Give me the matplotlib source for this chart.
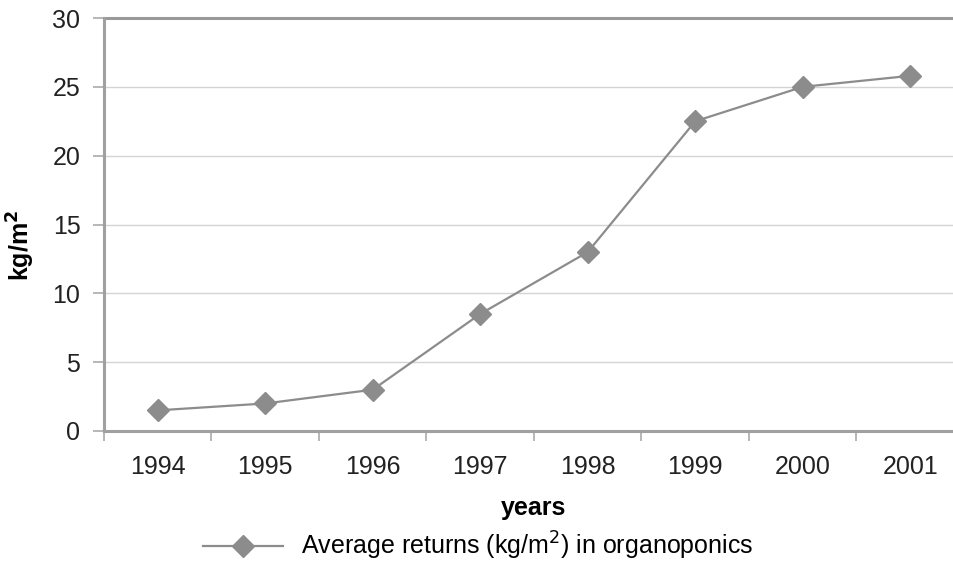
import matplotlib
matplotlib.use("Agg")
import matplotlib.pyplot as plt
from matplotlib.lines import Line2D

years = ["1994", "1995", "1996", "1997", "1998", "1999", "2000", "2001"]
returns = [1.5, 2.0, 3.0, 8.5, 13.0, 22.5, 25.0, 25.8]
yticks = [0, 5, 10, 15, 20, 25, 30]

plt.rcParams['font.family'] = ['Liberation Sans', 'DejaVu Sans']
FS = 18

fig = plt.figure(figsize=(9.54, 5.63), dpi=100)
ax = fig.add_axes([104/954, 132/563, 860/954, 413/563])

x = list(range(len(years)))
ax.plot(x, returns, color='#8c8c8c', lw=1.6, marker='D', ms=11,
        markerfacecolor='#8c8c8c', markeredgecolor='#8c8c8c', zorder=3, clip_on=False)

ax.set_xlim(-0.5, len(years) - 0.5)
ax.set_ylim(0, 30)
ax.set_yticks(yticks)
ax.set_yticklabels([str(v) for v in yticks], fontsize=FS, color='#222222')
for v in yticks[1:-1]:
    ax.axhline(v, color='#d4d4d4', lw=1, zorder=1)
ax.axhline(30, color='#999999', lw=2.2, zorder=2, clip_on=False)

ax.set_xticks([i - 0.5 for i in range(len(years) + 1)])
ax.set_xticklabels([])
ax.set_xticks(x, minor=True)
ax.set_xticklabels(years, minor=True, fontsize=FS, color='#222222')
ax.tick_params(axis='x', which='minor', length=0, pad=17)
ax.tick_params(axis='x', which='major', length=7, color='#aaaaaa', width=1.2)
ax.tick_params(axis='y', length=8, color='#aaaaaa', width=1.2, pad=9)

for s in ['top', 'right']:
    ax.spines[s].set_visible(False)
for s in ['left', 'bottom']:
    ax.spines[s].set_color('#a0a0a0')
    ax.spines[s].set_linewidth(2.2)

ax.set_xlabel('years', fontsize=FS, fontweight='bold')
ax.xaxis.set_label_coords(0.5, (431 - 496) / 413)
ax.set_ylabel('kg/m$^\\mathbf{2}$', fontsize=FS, fontweight='bold')
ax.yaxis.set_label_coords((21 - 104) / 860, (431 - 245) / 413)
ax.yaxis.label.set_va('center')

handle = Line2D([], [], color='#8c8c8c', lw=1.6, marker='D', ms=11,
                markerfacecolor='#8c8c8c', markeredgecolor='#8c8c8c')
fig.legend([handle], ['Average returns (kg/m$^2$) in organoponics'],
           loc='center', bbox_to_anchor=(478/954, 1 - 546/563), frameon=False,
           fontsize=FS, handlelength=3.2, handletextpad=0.7,
           borderpad=0, borderaxespad=0)

fig.savefig('out.png', dpi=100)
